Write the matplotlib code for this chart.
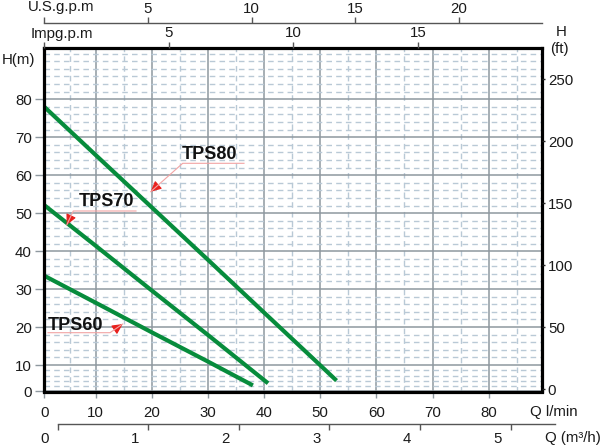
import matplotlib
matplotlib.use('Agg')
import matplotlib.pyplot as plt
import numpy as np
from matplotlib.transforms import Affine2D
from matplotlib.lines import Line2D

plt.rcParams['font.family'] = ['Liberation Sans', 'DejaVu Sans']
plt.rcParams['font.size'] = 10.8
plt.rcParams['text.color'] = '#1a1a1a'
plt.rcParams['xtick.color'] = '#1a1a1a'
plt.rcParams['ytick.color'] = '#1a1a1a'

# pump curves, Q in l/min, H in m
q_tps80 = [0, 10, 20, 30, 40, 50, 52.9]
h_tps80 = [78.0, 65.3, 51.5, 37.7, 23.8, 9.9, 4.1]
q_tps70 = [0, 10, 20, 30, 40.7]
h_tps70 = [52.1, 41.4, 29.6, 17.9, 3.1]
q_tps60 = [0, 10, 20, 30, 38.0]
h_tps60 = [33.5, 26.4, 18.6, 10.9, 2.3]

q_ticks = [0, 10, 20, 30, 40, 50, 60, 70, 80]
h_ticks = [0, 10, 20, 30, 40, 50, 60, 70, 80]
ft_ticks = [0, 50, 100, 150, 200, 250]
imp_ticks = [0, 5, 10, 15]
usg_ticks = [0, 5, 10, 15, 20]
m3h_ticks = [0, 1, 2, 3, 4, 5]

GREEN = '#078c3c'
MAJ = '#8e989f'
MIN = '#b9c9d6'

# the chart squeezes the first interval (0..10) on both axes
KX, KY = 0.9156, 0.698


def squeeze(k):
    def fwd(v):
        v = np.asarray(v, float)
        return np.where(v < 10, 10 - (10 - v) * k, v)

    def inv(u):
        u = np.asarray(u, float)
        return np.where(u < 10, 10 - (10 - u) / k, u)
    return fwd, inv


fig = plt.figure(figsize=(6, 4.45), dpi=100)
px = Affine2D().scale(1 / 600, -1 / 445).translate(0, 1) + fig.transFigure

ax = fig.add_axes([44.3 / 600, 1 - 391.5 / 445, 498 / 600, 343.5 / 445])
ax.set_xscale('function', functions=squeeze(KX))
ax.set_yscale('function', functions=squeeze(KY))
ax.set_xlim(0, 89.55)
ax.set_ylim(0, 93.5)

ax.set_xticks(q_ticks, labels=[str(v) for v in q_ticks])
ax.set_xticks(list(range(5, 90, 10)), minor=True)
ax.set_yticks(h_ticks, labels=[str(v) for v in h_ticks])
ax.set_yticks([v for v in range(2, 94, 2) if v % 10 or v > 80], minor=True)
ax.grid(which='major', color=MAJ, lw=1.1, ls='-', zorder=0)
ax.grid(which='minor', color=MIN, lw=1.0, ls=(0, (4, 3)), zorder=0)
ax.set_axisbelow(True)
ax.tick_params(which='minor', length=0)
ax.tick_params(axis='y', which='major', length=6.5, width=1, color=MAJ, pad=2.5)
ax.tick_params(axis='x', which='major', length=4.5, width=1, color=MAJ, pad=6)
for s in ax.spines.values():
    s.set_linewidth(2.3)
    s.set_color('black')
    s.set_zorder(5)

for q, h in [(q_tps80, h_tps80), (q_tps70, h_tps70), (q_tps60, h_tps60)]:
    ax.plot(q, h, color=GREEN, lw=3, solid_capstyle='butt', zorder=3)

# right axis in feet
axr = ax.twinx()
axr.set_ylim(-1.8, 275.2)
axr.set_yticks(ft_ticks, labels=[str(v) for v in ft_ticks])
axr.tick_params(axis='y', length=2.5, width=1, color='#222', pad=1.5)
for s in axr.spines.values():
    s.set_visible(False)

# top axis Impg.p.m
axt = ax.twiny()
axt.set_xlim(0, 20)
axt.set_xticks(imp_ticks, labels=[''] + [str(v) for v in imp_ticks[1:]])
axt.tick_params(axis='x', length=4.5, width=1, color='#555', pad=1)
for s in axt.spines.values():
    s.set_visible(False)

# top axis U.S.g.p.m
axu = fig.add_axes([44.3 / 600, 1 - 23.3 / 445, 498 / 600, 0.0001])
axu.set_xlim(0, 24.02)
axu.patch.set_visible(False)
axu.set_yticks([])
for k, s in axu.spines.items():
    s.set_visible(k == 'top')
axu.spines['top'].set_color('#555')
axu.spines['top'].set_linewidth(1)
axu.xaxis.tick_top()
axu.set_xticks(usg_ticks, labels=[''] + [str(v) for v in usg_ticks[1:]])
axu.tick_params(axis='x', length=4, width=1, color='#555', pad=1.5)

# bottom axis m3/h
axm = fig.add_axes([57.7 / 600, 1 - 424.3 / 445, 497.3 / 600, 0.0001])
axm.set_xlim(0, 5.49)
axm.patch.set_visible(False)
axm.set_yticks([])
for k, s in axm.spines.items():
    s.set_visible(k == 'bottom')
axm.spines['bottom'].set_color('#555')
axm.spines['bottom'].set_linewidth(1)
axm.set_xticks(m3h_ticks, labels=['' for _ in m3h_ticks])
axm.tick_params(axis='x', length=4, width=1, color='#555')
for v in m3h_ticks:
    axm.annotate(str(v), xy=(v, 0), xytext=(-9.5, -10.5), textcoords='offset points',
                 ha='center', va='center', annotation_clip=False)

# axis titles
fig.text(28, 7.5, 'U.S.g.p.m', transform=px, ha='left', va='center')
fig.text(30.7, 34, 'Impg.p.m', transform=px, ha='left', va='center')
fig.text(2, 60, 'H(m)', transform=px, ha='left', va='center')
fig.text(561, 32.5, 'H', transform=px, ha='center', va='center')
fig.text(559.5, 49, '(ft)', transform=px, ha='center', va='center')
fig.text(530, 411.7, 'Q l/min', transform=px, ha='left', va='center')
fig.text(545, 438, 'Q (m³/h)', transform=px, ha='left', va='center')

# curve labels with leader lines
labels = [
    ('TPS80', (209, 154.5), [(244, 163.3), (182.7, 163.3)], (150.7, 191.7)),
    ('TPS70', (106.7, 201), [(136, 211), (73.3, 211)], (66.7, 225)),
    ('TPS60', (75, 326), [(48, 332.7), (110, 332.7)], (122.7, 324)),
]
for name, pos, under, tip in labels:
    fig.text(pos[0], pos[1], name, transform=px, ha='center', va='center',
             fontsize=13, fontweight='bold', color='#111', zorder=10)
    xs = [under[0][0], under[1][0], tip[0]]
    ys = [under[0][1], under[1][1], tip[1]]
    fig.add_artist(Line2D(xs, ys, transform=px, color='#f2a3a3', lw=0.8, zorder=9))
    d = np.array(under[1]) - np.array(tip)
    back = np.array(tip) + d / np.hypot(*d) * 8
    ax.annotate('', xy=tip, xycoords=px, xytext=tuple(back), textcoords=px,
                arrowprops=dict(arrowstyle='-|>,head_length=0.7,head_width=0.35',
                                color='#e8201c', lw=0.8, shrinkA=0, shrinkB=0,
                                mutation_scale=9), zorder=10)

fig.savefig('out.png', dpi=100)
